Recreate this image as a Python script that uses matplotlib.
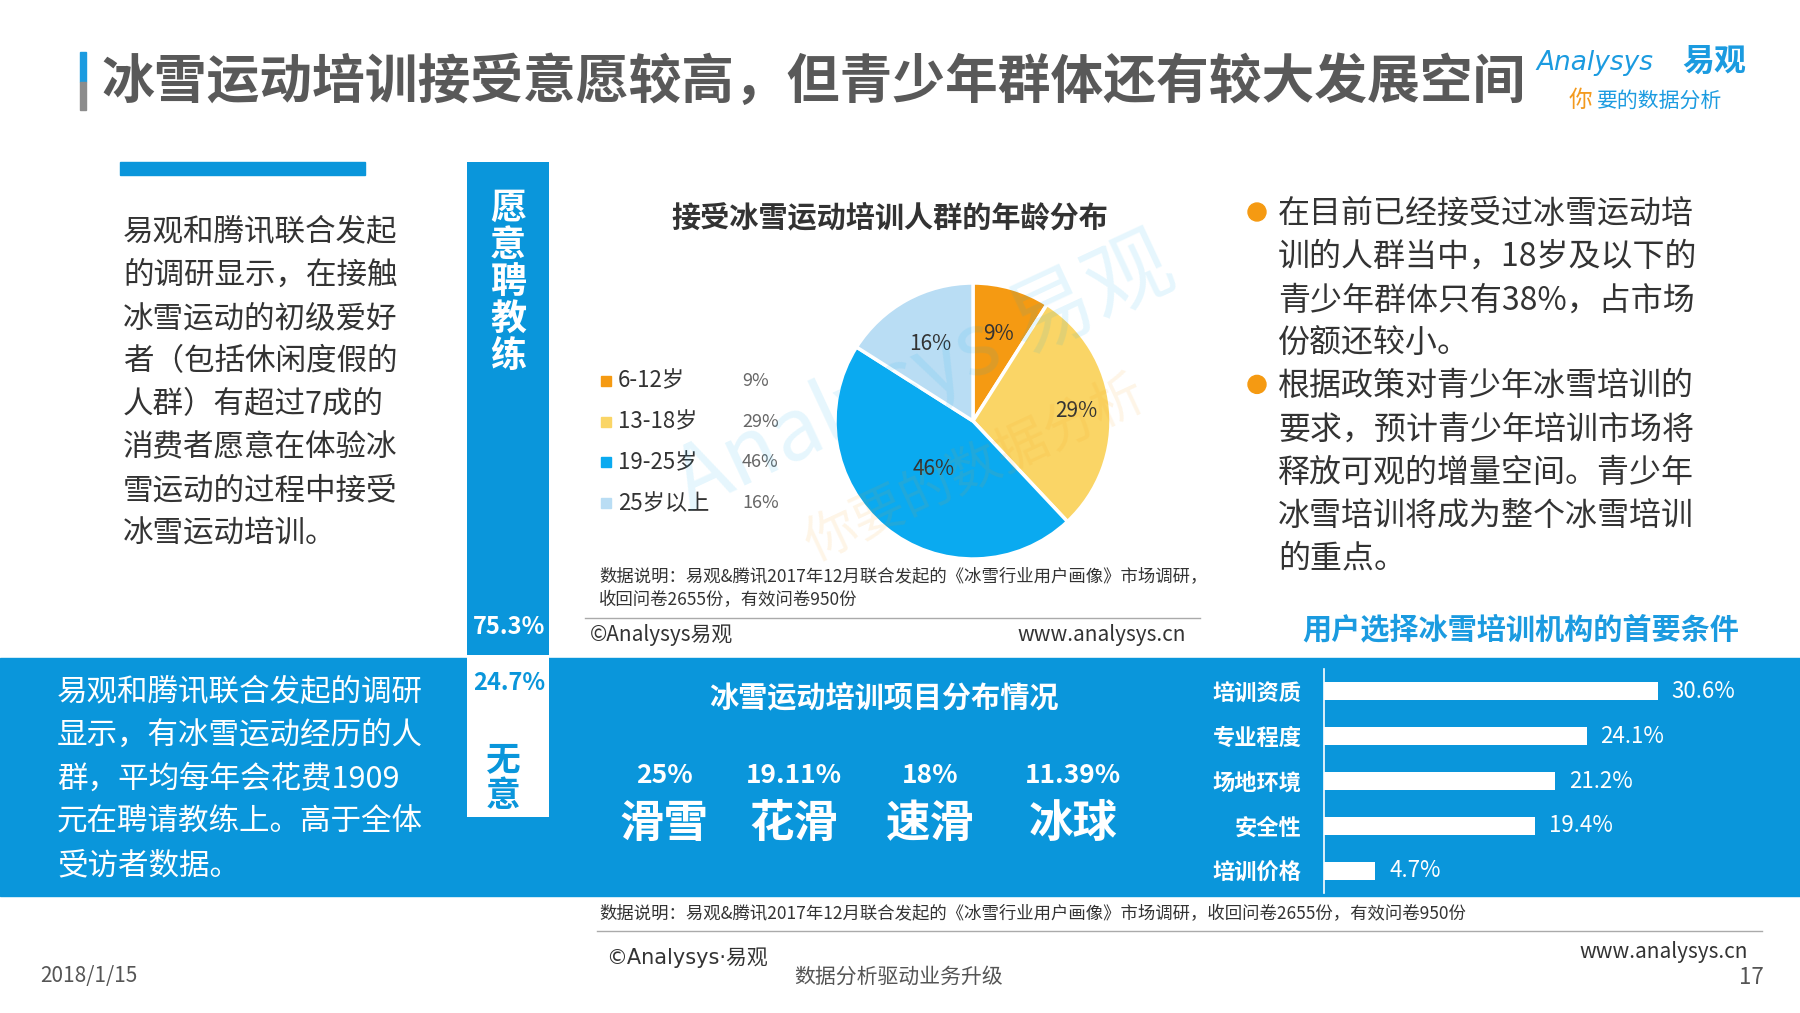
import numpy as np
import matplotlib
matplotlib.use("Agg")
import matplotlib.pyplot as plt
from matplotlib.patches import Rectangle, Circle

plt.rcParams['font.family'] = ['Noto Sans CJK SC', 'DejaVu Sans']

# ---- data ----
willing_labels = ["愿意聘教练", "无意"]
willing_shares = [75.3, 24.7]

age_groups = ["6-12岁", "13-18岁", "19-25岁", "25岁以上"]
age_shares = [9, 29, 46, 16]

sport_names = ["滑雪", "花滑", "速滑", "冰球"]
sport_shares = ["25%", "19.11%", "18%", "11.39%"]

criteria = ["培训资质", "专业程度", "场地环境", "安全性", "培训价格"]
criteria_shares = [30.6, 24.1, 21.2, 19.4, 4.7]

left_text = ["易观和腾讯联合发起", "的调研显示，在接触", "冰雪运动的初级爱好",
             "者（包括休闲度假的", "人群）有超过7成的", "消费者愿意在体验冰",
             "雪运动的过程中接受", "冰雪运动培训。"]
right_text = [["在目前已经接受过冰雪运动培", "训的人群当中，18岁及以下的",
               "青少年群体只有38%，占市场", "份额还较小。"],
              ["根据政策对青少年冰雪培训的", "要求，预计青少年培训市场将",
               "释放可观的增量空间。青少年", "冰雪培训将成为整个冰雪培训", "的重点。"]]
band_text = ["易观和腾讯联合发起的调研", "显示，有冰雪运动经历的人",
             "群，平均每年会花费1909", "元在聘请教练上。高于全体", "受访者数据。"]

title = "冰雪运动培训接受意愿较高，但青少年群体还有较大发展空间"
source = "数据说明：易观&腾讯2017年12月联合发起的《冰雪行业用户画像》市场调研，"
source2 = "收回问卷2655份，有效问卷950份"

BLUE = "#0A96DB"
PIE_COLORS = ["#F59A12", "#FAD566", "#0AAAF0", "#B9DDF4"]
DARK = "#333333"

W, H = 1800, 1013
fig = plt.figure(figsize=(W / 100, H / 100), dpi=100)
ax = fig.add_axes([0, 0, 1, 1])
ax.set_xlim(0, W)
ax.set_ylim(H, 0)
ax.axis('off')


def px_axes(x0, y0, w, h):
    a = fig.add_axes([x0 / W, 1 - (y0 + h) / H, w / W, h / H])
    a.set_facecolor('none')
    return a


# ---- header ----
ax.add_patch(Rectangle((80, 52), 6, 30, color="#1B9BE0"))
ax.add_patch(Rectangle((80, 82), 6, 28, color="#8C8C8C"))
ax.text(101, 82, title, fontsize=38, fontweight='bold', color="#595959", va='center')
ax.text(1536, 63, "Analysys", fontsize=19, style='italic', color="#1B9BE0",
        va='center', family=['DejaVu Sans'])
ax.text(1682, 62, "易观", fontsize=23, fontweight='bold', color="#1B9BE0", va='center')
ax.text(1569, 100, "你", fontsize=17, style='italic', color="#F39A1E", va='center')
ax.text(1597, 101, "要的数据分析", fontsize=15, style='italic', color="#1B9BE0", va='center')

# ---- left paragraph ----
ax.add_patch(Rectangle((120, 162), 245, 13, color=BLUE))
for i, line in enumerate(left_text):
    ax.text(123, 232 + i * 43.1, line, fontsize=22, color=DARK, va='center')

# ---- blue band ----
ax.add_patch(Rectangle((0, 658), W, 238, color=BLUE, zorder=0))

# ---- willingness stacked column ----
ax_w = px_axes(467, 162, 82, 655)
ax_w.bar([0], [willing_shares[1]], width=1, color="white")
ax_w.bar([0], [willing_shares[0]], bottom=[willing_shares[1]], width=1, color=BLUE)
ax_w.set_xlim(-0.5, 0.5)
ax_w.set_ylim(0, 100)
ax_w.axis('off')

# ---- pie chart ----
ax.text(890, 217, "接受冰雪运动培训人群的年龄分布", fontsize=21, fontweight='bold',
        color=DARK, ha='center', va='center')
R = 138
ax_p = px_axes(973 - R, 421 - R, 2 * R, 2 * R)
wedges, _ = ax_p.pie(age_shares, colors=PIE_COLORS, startangle=90, counterclock=False,
                     radius=1, wedgeprops=dict(edgecolor="white", linewidth=2.5))
ax_p.set_xlim(-1, 1)
ax_p.set_ylim(-1, 1)
ax_p.set_aspect('equal')
ax_p.axis('off')
label_r = [0.66, 0.75, 0.45, 0.64]
for w, v, r in zip(wedges, age_shares, label_r):
    ang = np.deg2rad((w.theta1 + w.theta2) / 2)
    ax_p.text(r * np.cos(ang), r * np.sin(ang), f"{v}%", fontsize=15,
              color=DARK, ha='center', va='center')

for i, (g, v, c) in enumerate(zip(age_groups, age_shares, PIE_COLORS)):
    y = 381 + i * 40.7
    ax.add_patch(Rectangle((601, y - 5), 10, 10, color=c))
    ax.text(618, y, g, fontsize=16, color=DARK, va='center')
    ax.text(742, y, f"{v}%", fontsize=13, color="#666666", va='center')

ax.text(599, 576, source, fontsize=12.5, color=DARK, va='center')
ax.text(599, 600, source2, fontsize=12.5, color=DARK, va='center')
ax.plot([585, 1200], [618, 618], color="#AAAAAA", lw=1)
ax.text(590, 635, "©Analysys易观", fontsize=15, color=DARK, va='center')
ax.text(1186, 635, "www.analysys.cn", fontsize=15, color=DARK, va='center', ha='right')

# ---- right bullets ----
y = 214
for para in right_text:
    ax.add_patch(Circle((1257, y - 2), 9, color="#F59A12"))
    for line in para:
        ax.text(1278, y, line, fontsize=23, color=DARK, va='center')
        y += 43.1

ax.text(1521, 629, "用户选择冰雪培训机构的首要条件", fontsize=21, fontweight='bold',
        color="#1B9BE0", ha='center', va='center')

# ---- band left text ----
for i, line in enumerate(band_text):
    ax.text(57, 692 + i * 43.5, line, fontsize=22, color="white", va='center')

# ---- sport distribution ----
ax.text(884, 697, "冰雪运动培训项目分布情况", fontsize=21, fontweight='bold',
        color="white", ha='center', va='center')
sport_x = [664, 794, 930, 1073]
for x, name, share in zip(sport_x, sport_names, sport_shares):
    ax.text(x, 775, share, fontsize=19, fontweight='bold', color="white",
            ha='center', va='center')
    ax.text(x, 824, name, fontsize=32, fontweight='bold', color="white",
            ha='center', va='center')

# ---- criteria bar chart ----
ax_b = px_axes(1324, 669, 436, 224)
ypos = np.arange(len(criteria))
bars = ax_b.barh(ypos, criteria_shares, height=0.4, color="white")
ax_b.set_xlim(0, 40)
ax_b.set_ylim(4.5, -0.5)
ax_b.set_yticks(ypos)
ax_b.set_yticklabels(criteria, fontsize=16, fontweight='bold', color="white")
ax_b.tick_params(axis='y', length=0, pad=16)
ax_b.set_xticks([])
for s in ["top", "right", "bottom"]:
    ax_b.spines[s].set_visible(False)
ax_b.spines["left"].set_color("white")
ax_b.spines["left"].set_linewidth(1.2)
ax_b.bar_label(bars, labels=[f"{v}%" for v in criteria_shares], padding=10,
               fontsize=16, color="white")

# ---- footer ----
ax.text(599, 914, source + source2, fontsize=12.5, color=DARK, va='center')
ax.plot([597, 1762], [931, 931], color="#AAAAAA", lw=1)
ax.text(606, 958, "©Analysys·易观", fontsize=15, color=DARK, va='center',
        family=['DejaVu Sans', 'Noto Sans CJK SC'])
ax.text(899, 977, "数据分析驱动业务升级", fontsize=15, color="#555555", ha='center', va='center')
ax.text(40, 976, "2018/1/15", fontsize=15, color="#555555", va='center')
ax.text(1748, 952, "www.analysys.cn", fontsize=15, color=DARK, ha='right', va='center')
ax.text(1764, 977, "17", fontsize=16, color="#555555", ha='right', va='center')

# ---- overlay: column texts and watermark on top of inset axes ----
top = fig.add_axes([0, 0, 1, 1])
top.set_facecolor('none')
top.set_xlim(0, W)
top.set_ylim(H, 0)
top.axis('off')

for i, ch in enumerate(willing_labels[0]):
    top.text(508, 208 + i * 37.2, ch, fontsize=26, fontweight='bold', color="white",
             ha='center', va='center')
top.text(509, 627, f"{willing_shares[0]}%", fontsize=17, fontweight='bold',
         color="white", ha='center', va='center')
top.text(509, 683, f"{willing_shares[1]}%", fontsize=17, fontweight='bold',
         color=BLUE, ha='center', va='center')
for i, ch in enumerate(willing_labels[1]):
    top.text(503, 760 + i * 35, ch, fontsize=25, fontweight='bold', color=BLUE,
             ha='center', va='center')

top.text(925, 375, "Analysys 易观", fontsize=62, color="#0AAAF0", alpha=0.10,
         rotation=25, ha='center', va='center', style='italic')
top.text(975, 470, "你要的数据分析", fontsize=38, color="#F59A12", alpha=0.10,
         rotation=25, ha='center', va='center')

fig.savefig("out.png", dpi=100, facecolor="white")
